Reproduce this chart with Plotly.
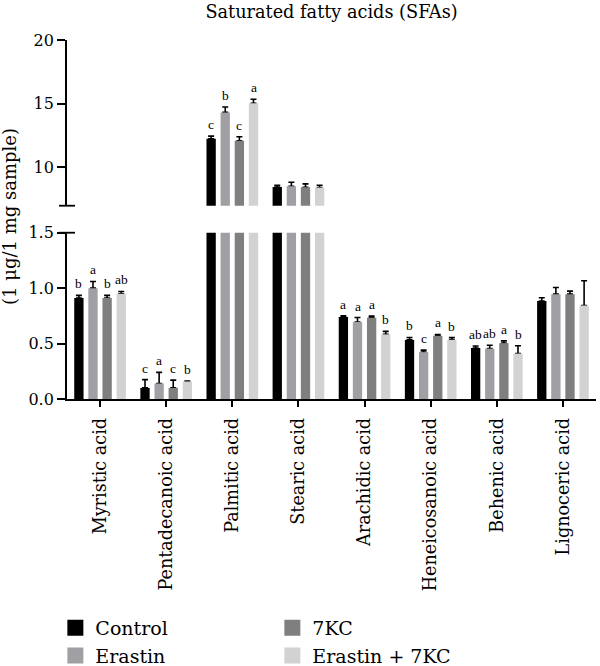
import plotly.graph_objects as go

categories = ["Myristic acid", "Pentadecanoic acid", "Palmitic acid", "Stearic acid",
              "Arachidic acid", "Heneicosanoic acid", "Behenic acid", "Lignoceric acid"]

series_names = ["Control", "Erastin", "7KC", "Erastin + 7KC"]

control = [0.91, 0.10, 12.25, 8.47, 0.74, 0.533, 0.46, 0.883]
control_err = [0.025, 0.075, 0.21, 0.13, 0.01, 0.022, 0.018, 0.03]
erastin = [1.00, 0.14, 14.32, 8.53, 0.695, 0.423, 0.455, 0.946]
erastin_err = [0.06, 0.10, 0.42, 0.31, 0.04, 0.018, 0.03, 0.06]
kc7 = [0.91, 0.10, 12.09, 8.45, 0.733, 0.57, 0.504, 0.946]
kc7_err = [0.025, 0.07, 0.32, 0.26, 0.015, 0.012, 0.02, 0.027]
erastin_kc7 = [0.95, 0.158, 15.03, 8.42, 0.583, 0.534, 0.41, 0.844]
erastin_kc7_err = [0.02, 0.005, 0.32, 0.18, 0.027, 0.02, 0.07, 0.222]

letters_control = ["b", "c", "c", "", "a", "b", "ab", ""]
letters_erastin = ["a", "a", "b", "", "a", "c", "ab", ""]
letters_kc7 = ["b", "c", "c", "", "a", "a", "a", ""]
letters_erastin_kc7 = ["ab", "b", "a", "", "b", "b", "b", ""]

colors = ["#000000", "#a0a0a4", "#7f7f7f", "#d2d2d2"]

values = [control, erastin, kc7, erastin_kc7]
errors = [control_err, erastin_err, kc7_err, erastin_kc7_err]
letters = [letters_control, letters_erastin, letters_kc7, letters_erastin_kc7]

LOW_MAX = 1.5
LOW_DOMAIN = [0, 0.4632]
HIGH_DOMAIN = [0.5384, 1]
SERIF = "DejaVu Serif"

fig = go.Figure()

for yax in ["y", "y2"]:
    # error-bar carriers first so the real bars hide the lower caps
    for name, v, e in zip(series_names, values, errors):
        fig.add_trace(go.Bar(
            x=categories, y=v, xaxis="x", yaxis=yax, offsetgroup=name,
            marker=dict(color="rgba(0,0,0,0)", line=dict(width=0)),
            error_y=dict(type="data", array=e, arrayminus=[0] * len(e), symmetric=False,
                         color="black", thickness=1.6, width=3),
            showlegend=False, hoverinfo="skip"))
    for name, v, c in zip(series_names, values, colors):
        fig.add_trace(go.Bar(
            x=categories, y=v, xaxis="x", yaxis=yax, offsetgroup=name, name=name,
            marker=dict(color=c, line=dict(width=0)), showlegend=False))

# legend proxies (row-major order: Control, 7KC / Erastin, Erastin + 7KC)
for idx in [0, 2, 1, 3]:
    fig.add_trace(go.Scatter(
        x=[None], y=[None], mode="markers", name=series_names[idx],
        marker=dict(symbol="square", size=16, color=colors[idx]),
        showlegend=True))

# significance letters
slot = 0.2136
annotations = []
for j in range(4):
    off = (j - 1.5) * slot
    for i, lab in enumerate(letters[j]):
        if not lab:
            continue
        top = values[j][i] + errors[j][i]
        annotations.append(dict(
            x=i + off, y=top, xref="x", yref="y2" if values[j][i] > LOW_MAX else "y",
            text=lab, showarrow=False, yanchor="bottom", xanchor="center", yshift=2,
            font=dict(family="Liberation Serif", size=13.5, color="#000000")))

annotations.append(dict(
    x=0, y=0.507, xref="paper", yref="paper", xshift=-57, text="(1 μg/1 mg sample)",
    textangle=-90, showarrow=False, xanchor="center", yanchor="middle",
    font=dict(family=SERIF, size=18, color="black")))

# break caps at the ends of the two y-axis segments
shapes = [
    dict(type="line", xref="paper", xsizemode="pixel", xanchor=0, x0=-8, x1=8,
         yref="paper", y0=HIGH_DOMAIN[0], y1=HIGH_DOMAIN[0],
         line=dict(color="black", width=1.8)),
    dict(type="line", xref="paper", xsizemode="pixel", xanchor=0, x0=-8, x1=8,
         yref="paper", y0=LOW_DOMAIN[1], y1=LOW_DOMAIN[1],
         line=dict(color="black", width=1.8)),
]

fig.update_layout(
    width=600, height=666,
    margin=dict(l=67, r=4, t=40, b=267, autoexpand=False),
    paper_bgcolor="white", plot_bgcolor="white",
    barmode="group", bargap=0.146, bargroupgap=0.34,
    title=dict(text="Saturated fatty acids (SFAs)", x=0.5, xref="paper",
               y=1 - 12 / 666, yref="container", yanchor="middle", xanchor="center",
               font=dict(family=SERIF, size=17.7, color="black")),
    xaxis=dict(type="category", range=[-0.5, 7.5], anchor="y",
               showline=True, linecolor="black", linewidth=1.8,
               ticks="outside", ticklen=6, tickwidth=1.6, tickcolor="black",
               tickangle=-90, showgrid=False, zeroline=False, ticklabelstandoff=4,
               tickfont=dict(family=SERIF, size=17.6, color="black")),
    yaxis=dict(domain=LOW_DOMAIN, range=[0, 1.5], anchor="x",
               tickvals=[0, 0.5, 1.0, 1.5], tickformat=".1f",
               showline=True, linecolor="black", linewidth=1.8,
               ticks="outside", ticklen=8, tickwidth=1.6, tickcolor="black",
               showgrid=False, zeroline=False,
               tickfont=dict(family=SERIF, size=16, color="black")),
    yaxis2=dict(domain=HIGH_DOMAIN, range=[7, 20], anchor="x",
                tickvals=[10, 15, 20],
                showline=True, linecolor="black", linewidth=1.8,
                ticks="outside", ticklen=8, tickwidth=1.6, tickcolor="black",
                showgrid=False, zeroline=False,
                tickfont=dict(family=SERIF, size=16, color="black")),
    legend=dict(orientation="h", x=-0.022, xanchor="left", y=-0.585, yanchor="top",
                entrywidth=172, font=dict(family=SERIF, size=19, color="black"),
                bgcolor="rgba(0,0,0,0)", traceorder="normal"),
    annotations=annotations,
    shapes=shapes,
)

fig.write_html("out.html")
